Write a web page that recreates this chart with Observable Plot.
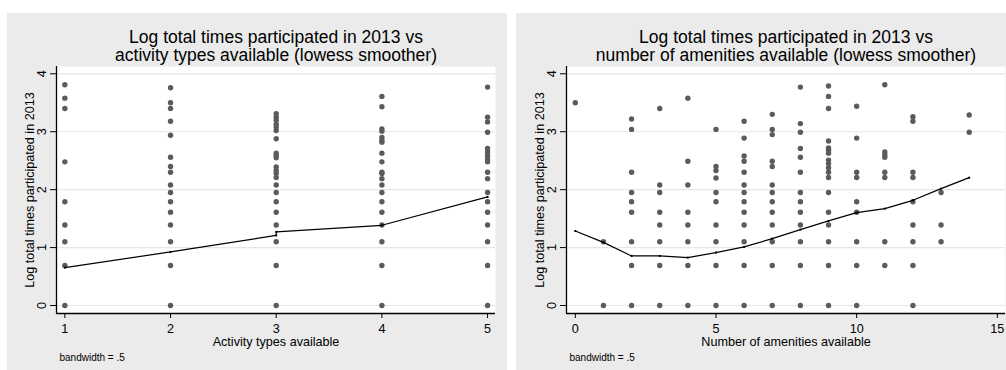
<!DOCTYPE html>
<html><head><meta charset="utf-8">
<script src="https://cdn.jsdelivr.net/npm/d3@7"></script>
<script src="https://cdn.jsdelivr.net/npm/@observablehq/plot@0.6"></script>
<style>
html,body{margin:0;padding:0;background:#fff;width:1006px;height:370px;overflow:hidden;}
#wrap{position:relative;width:1006px;height:370px;overflow:hidden;}
.panel{position:absolute;top:13px;width:500px;height:357px;background:#ebebeb;}
.panel svg{display:block;}
</style></head><body>
<div id="wrap"><div class="panel" id="p1" style="left:7px"></div><div class="panel" id="p2" style="left:516px"></div></div>
<script>
// ---- Data ----
const yTicks = [0, 1, 2, 3, 4];
const yLabel = "Log total times participated in 2013";

const activityTypes = [1, 2, 3, 4, 5];
const logTimesByActivity = [
  [3.81, 3.58, 3.40, 2.48, 1.79, 1.39, 1.10, 0.69, 0],
  [3.76, 3.50, 3.40, 3.18, 2.94, 2.56, 2.40, 2.30, 2.08, 1.95, 1.79, 1.61, 1.39, 1.10, 0.69, 0],
  [3.31, 3.25, 3.20, 3.13, 3.08, 3.02, 2.88, 2.63, 2.59, 2.55, 2.39, 2.33, 2.28, 2.21, 2.08, 1.95, 1.79, 1.61, 1.39, 1.10, 0.69, 0],
  [3.61, 3.43, 3.05, 3.01, 2.90, 2.85, 2.82, 2.63, 2.48, 2.30, 2.28, 2.19, 2.08, 1.95, 1.79, 1.61, 1.39, 1.10, 0.69, 0],
  [3.77, 3.25, 3.17, 2.99, 2.71, 2.65, 2.59, 2.53, 2.48, 2.30, 2.19, 1.95, 1.79, 1.61, 1.39, 1.10, 0.69, 0]
];
const lowessActivityX = [1, 2, 3, 3, 4, 5];
const lowessActivityY = [0.655, 0.925, 1.21, 1.27, 1.385, 1.874];
const activityTicks = [1, 2, 3, 4, 5];

const amenityCounts = [0, 1, 2, 3, 4, 5, 6, 7, 8, 9, 10, 11, 12, 13, 14];
const logTimesByAmenities = [
  [3.50],
  [1.10, 0],
  [3.22, 3.04, 2.30, 1.95, 1.79, 1.61, 1.10, 0.69, 0],
  [3.40, 2.08, 1.95, 1.61, 1.39, 1.10, 0.69, 0],
  [3.58, 2.49, 2.08, 1.61, 1.39, 1.10, 0.69, 0],
  [3.04, 2.40, 2.33, 2.20, 1.95, 1.79, 1.39, 1.10, 0.69, 0],
  [3.18, 2.89, 2.58, 2.49, 2.30, 2.08, 1.95, 1.79, 1.61, 1.39, 1.10, 0.69, 0],
  [3.30, 3.04, 2.95, 2.49, 2.40, 2.08, 1.95, 1.79, 1.61, 1.39, 1.10, 0.69, 0],
  [3.77, 3.14, 2.99, 2.71, 2.56, 2.30, 1.95, 1.79, 1.61, 1.39, 1.10, 0.69, 0],
  [3.79, 3.61, 3.40, 2.84, 2.72, 2.68, 2.63, 2.51, 2.45, 2.38, 2.30, 2.21, 1.95, 1.61, 1.39, 1.10, 0.69, 0],
  [3.44, 2.89, 2.30, 2.21, 1.79, 1.61, 1.10, 0.69, 0],
  [3.81, 2.65, 2.60, 2.56, 2.30, 2.21, 1.10, 0.69],
  [3.26, 3.18, 2.30, 2.21, 1.79, 1.39, 1.10, 0.69, 0],
  [1.95, 1.39, 1.10],
  [3.29, 2.99]
];
const lowessAmenitiesX = [0, 1, 2, 3, 4, 5, 6, 7, 8, 9, 10, 11, 12, 13, 14];
const lowessAmenitiesY = [1.287, 1.09, 0.856, 0.856, 0.828, 0.914, 1.011, 1.155, 1.31, 1.46, 1.603, 1.672, 1.816, 2.017, 2.207];
const amenityTicks = [0, 5, 10, 15];

// ---- Drawing ----
const FONT = "'Liberation Sans', Arial, Helvetica, sans-serif";
const Y_DOMAIN = [-0.138, 4.126];

function panel({xs, ysBy, lx, ly, xDomain, xTicks, title, xLabel, marginLeft, marginRight}) {
  const pts = xs.flatMap((x, i) => ysBy[i].map(y => ({x, y})));
  const line = lx.map((x, i) => ({x, y: ly[i]}));
  const mid = {textAnchor: "middle", lineAnchor: "middle"};
  return Plot.plot({
    width: 500, height: 357,
    marginLeft, marginRight, marginTop: 53, marginBottom: 57,
    style: {background: "transparent", fontFamily: FONT, fontSize: "12.6px", color: "#000", overflow: "visible"},
    x: {domain: xDomain},
    y: {domain: Y_DOMAIN},
    marks: [
      Plot.frame({fill: "white", stroke: null}),
      Plot.gridY(yTicks, {stroke: "#e6e6e6", strokeOpacity: 1, strokeWidth: 1.2}),
      Plot.dot(pts, {x: "x", y: "y", r: 2.7, fill: "#5b5b5b", stroke: null}),
      Plot.line(line, {x: "x", y: "y", stroke: "#000", strokeWidth: 1.2}),
      Plot.dot(line, {x: "x", y: "y", r: 1.1, symbol: "square", fill: "#000"}),
      Plot.ruleX([xDomain[0]], {stroke: "#000", strokeWidth: 1.3}),
      Plot.ruleY([Y_DOMAIN[0]], {stroke: "#000", strokeWidth: 1.3}),
      Plot.axisX(xTicks, {tickSize: 5, tickPadding: 6, fontSize: 12.6, label: null, stroke: "#000"}),
      Plot.axisY(yTicks, {tickSize: 6, tickFormat: () => "", label: null, stroke: "#000"}),
      Plot.text(yTicks, {y: d => d, text: d => String(d), frameAnchor: "left", dx: -15, rotate: -90, fontSize: 12.6, ...mid}),
      Plot.text([yLabel], {text: d => d, frameAnchor: "left", dx: -27, rotate: -90, fontSize: 12.6, ...mid}),
      Plot.text([xLabel], {text: d => d, frameAnchor: "bottom", dy: 28, fontSize: 12.6, ...mid}),
      Plot.text(["bandwidth = .5"], {text: d => d, frameAnchor: "bottom-left", dx: 3, dy: 44, fontSize: 10, textAnchor: "start", lineAnchor: "middle"}),
      Plot.text([title], {text: d => d, frameAnchor: "top", dy: -20, fontSize: 17.5, lineHeight: 1.04, ...mid})
    ]
  });
}

document.getElementById("p1").appendChild(panel({
  xs: activityTypes, ysBy: logTimesByActivity,
  lx: lowessActivityX, ly: lowessActivityY,
  xDomain: [0.921, 5.075], xTicks: activityTicks,
  title: "Log total times participated in 2013 vs\nactivity types available (lowess smoother)",
  xLabel: "Activity types available",
  marginLeft: 49, marginRight: 12
}));
document.getElementById("p2").appendChild(panel({
  xs: amenityCounts, ysBy: logTimesByAmenities,
  lx: lowessAmenitiesX, ly: lowessAmenitiesY,
  xDomain: [-0.313, 15.29], xTicks: amenityTicks,
  title: "Log total times participated in 2013 vs\nnumber of amenities available (lowess smoother)",
  xLabel: "Number of amenities available",
  marginLeft: 50, marginRight: 11
}));
</script>
</body></html>
